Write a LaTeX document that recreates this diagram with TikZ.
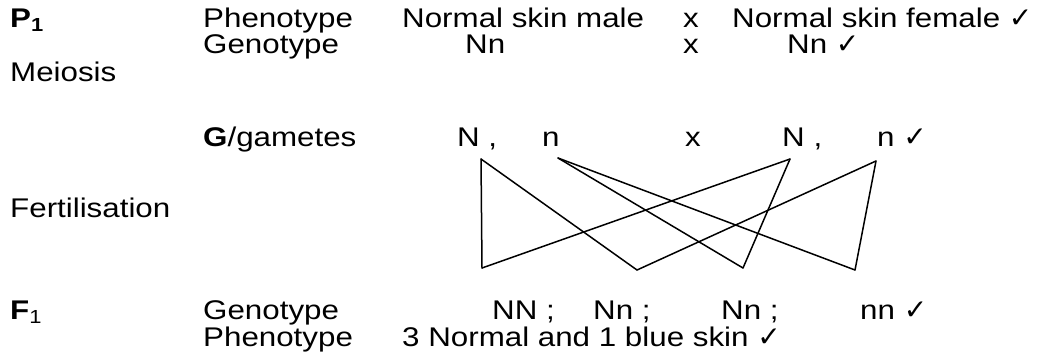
\documentclass[tikz,border=0pt]{standalone}
\usepackage{fontspec}
\setmainfont{Liberation Sans}[FakeStretch=1.16]
\newfontfamily\checkfont{DejaVu Sans}
\newcommand{\tick}{\smash{\checkfont\fontsize{28}{28}\selectfont ✓}}
\begin{document}
\begin{tikzpicture}[x=1pt,y=-1pt,
  txt/.style={anchor=base west,inner sep=0pt,font=\fontsize{27}{31}\selectfont},
  cross/.style={line width=1.5pt,line cap=round,line join=round}]
\useasboundingbox (0,0) rectangle (1046,360);
% row P1
\node[txt] (p1) at (10,27) {\textbf{P}\textsubscript{\textbf{1}}};
\node[txt] (ph1) at (203,27) {Phenotype};
\node[txt] (nsm) at (402,27) {Normal skin male};
\node[txt] (x1) at (683,27) {x};
\node[txt] (nsf) at (732,27) {Normal skin female \tick};
% row genotype
\node[txt] (ge1) at (203,53) {Genotype};
\node[txt] (nn1) at (465,53) {Nn};
\node[txt] (x2) at (683,53) {x};
\node[txt] (nn2) at (787,53) {Nn \tick};
% meiosis
\node[txt] (mei) at (10,81) {Meiosis};
% gametes
\node[txt] (gam) at (203,146) {\textbf{G}/gametes};
\node[txt] (gN1) at (457,146) {N ,};
\node[txt] (gn1) at (542,146) {n};
\node[txt] (x3) at (685,146) {x};
\node[txt] (gN2) at (782,146) {N ,};
\node[txt] (gn2) at (877,146) {n \tick};
% fertilisation
\node[txt] (fer) at (10,217) {Fertilisation};
% F1
\node[txt] (f1) at (10,319) {\textbf{F}\textsubscript{1}};
\node[txt] (ge2) at (203,319) {Genotype};
\node[txt] (o1) at (492,319) {NN ;};
\node[txt] (o2) at (593,319) {Nn ;};
\node[txt] (o3) at (721,319) {Nn ;};
\node[txt] (o4) at (860,319) {nn \tick};
\node[txt] (ph2) at (203,346) {Phenotype};
\node[txt] (res) at (402,346) {3 Normal and 1 blue skin \tick};
% gamete line ends
\coordinate (tN1) at (481,159);
\coordinate (tn1) at (558,158);
\coordinate (tN2) at (790,159);
\coordinate (tn2) at (876,161);
\coordinate (b1) at (482,268);
\coordinate (b2) at (637,270);
\coordinate (b3) at (743,268);
\coordinate (b4) at (855,270);
\draw[cross] (tN1) -- (b1);
\draw[cross] (tN1) -- (b2);
\draw[cross] (tn1) -- (b3);
\draw[cross] (tn1) -- (b4);
\draw[cross] (tN2) -- (b1);
\draw[cross] (tN2) -- (b3);
\draw[cross] (tn2) -- (b2);
\draw[cross] (tn2) -- (b4);
\end{tikzpicture}
\end{document}
